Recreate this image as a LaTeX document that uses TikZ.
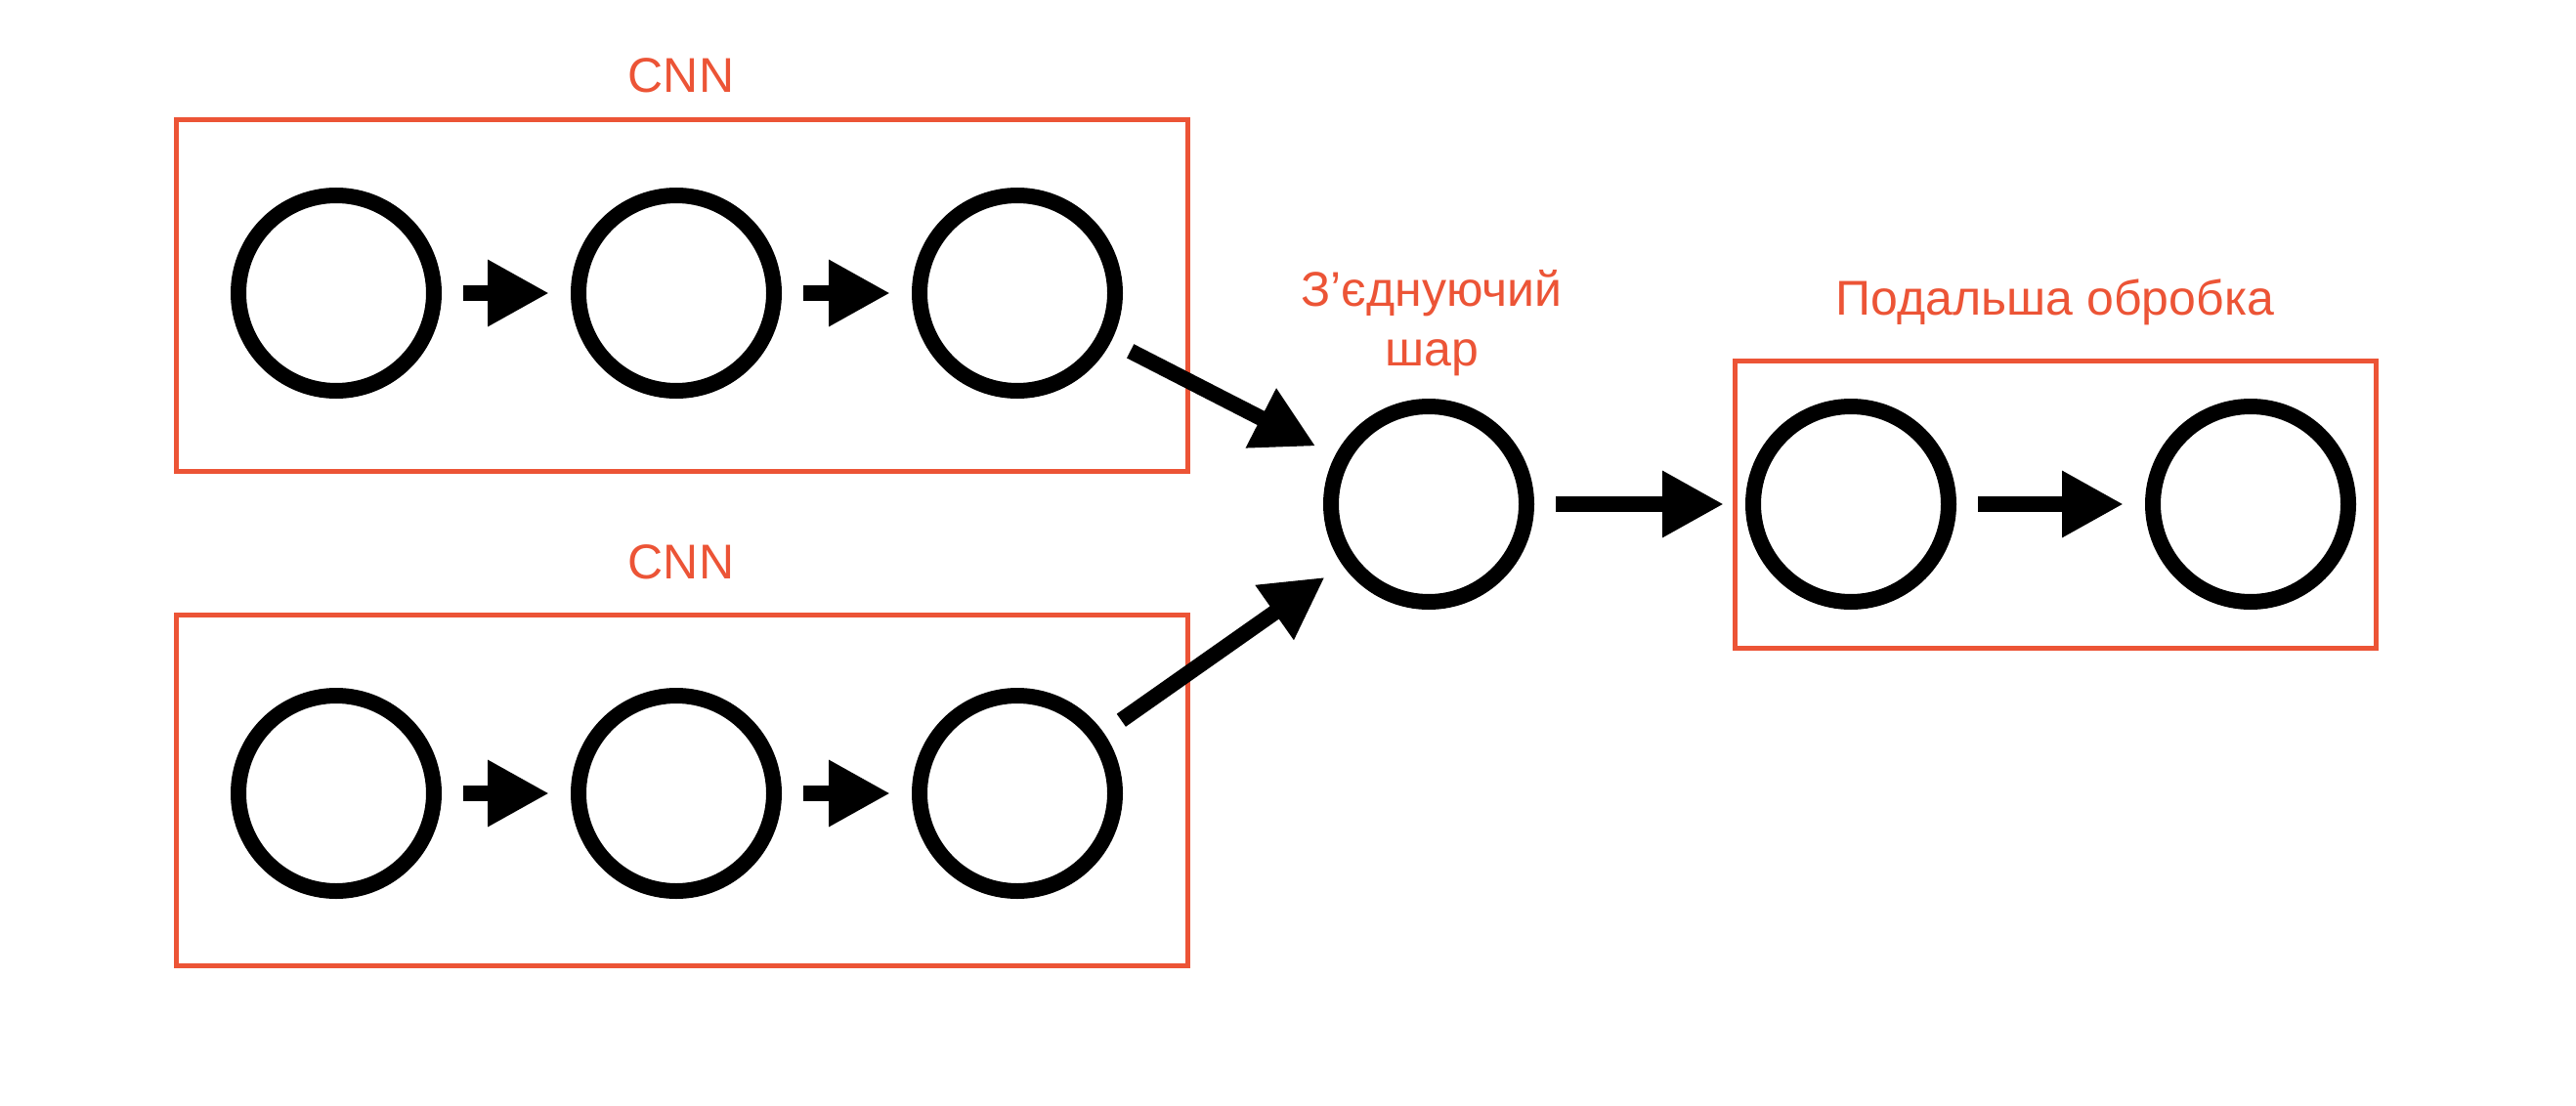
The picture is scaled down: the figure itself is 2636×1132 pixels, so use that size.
\documentclass[tikz,border=0pt]{standalone}
\usepackage{fontspec}
\setmainfont{Liberation Sans}
\usetikzlibrary{arrows.meta}
\definecolor{boxred}{RGB}{236,84,54}
\begin{document}
\begin{tikzpicture}[x=1pt,y=-1pt,
  neuron/.style={circle,draw=black,line width=16pt,minimum size=200pt,inner sep=0pt},
  grp/.style={draw=boxred,line width=5pt},
  lbl/.style={text=boxred,font=\fontsize{50}{61}\selectfont,anchor=base,inner sep=0pt,align=center},
  flow/.style={line width=16pt,-{Triangle[length=63pt,width=64pt]},shorten <=22pt,shorten >=22pt}]
\useasboundingbox[fill=white] (0,0) rectangle (2636,1132);

% group boxes
\draw[grp] (180,122) rectangle (1215,482);
\draw[grp] (180,629) rectangle (1215,988);
\draw[grp] (1775,369) rectangle (2431,663);

% labels
\node[lbl] (l1) at (697,94) {CNN};
\node[lbl] (l2) at (697,592) {CNN};
\node[lbl] (l3) at (1465,374) {З’єднуючий\\шар};
\node[lbl] (l4) at (2103,322) {Подальша обробка};

% neurons
\node[neuron] (a1) at (344,300) {};
\node[neuron] (a2) at (692,300) {};
\node[neuron] (a3) at (1041,300) {};
\node[neuron] (b1) at (344,812) {};
\node[neuron] (b2) at (692,812) {};
\node[neuron] (b3) at (1041,812) {};
\node[neuron] (m) at (1462,516) {};
\node[neuron] (r1) at (1894,516) {};
\node[neuron] (r2) at (2303,516) {};

% connectors
\draw[flow] (a1) -- (a2);
\draw[flow] (a2) -- (a3);
\draw[flow] (b1) -- (b2);
\draw[flow] (b2) -- (b3);
\draw[flow] (a3) -- (m);
\draw[flow] (b3) -- (m);
\draw[flow] (m) -- (r1);
\draw[flow] (r1) -- (r2);
\end{tikzpicture}
\end{document}
